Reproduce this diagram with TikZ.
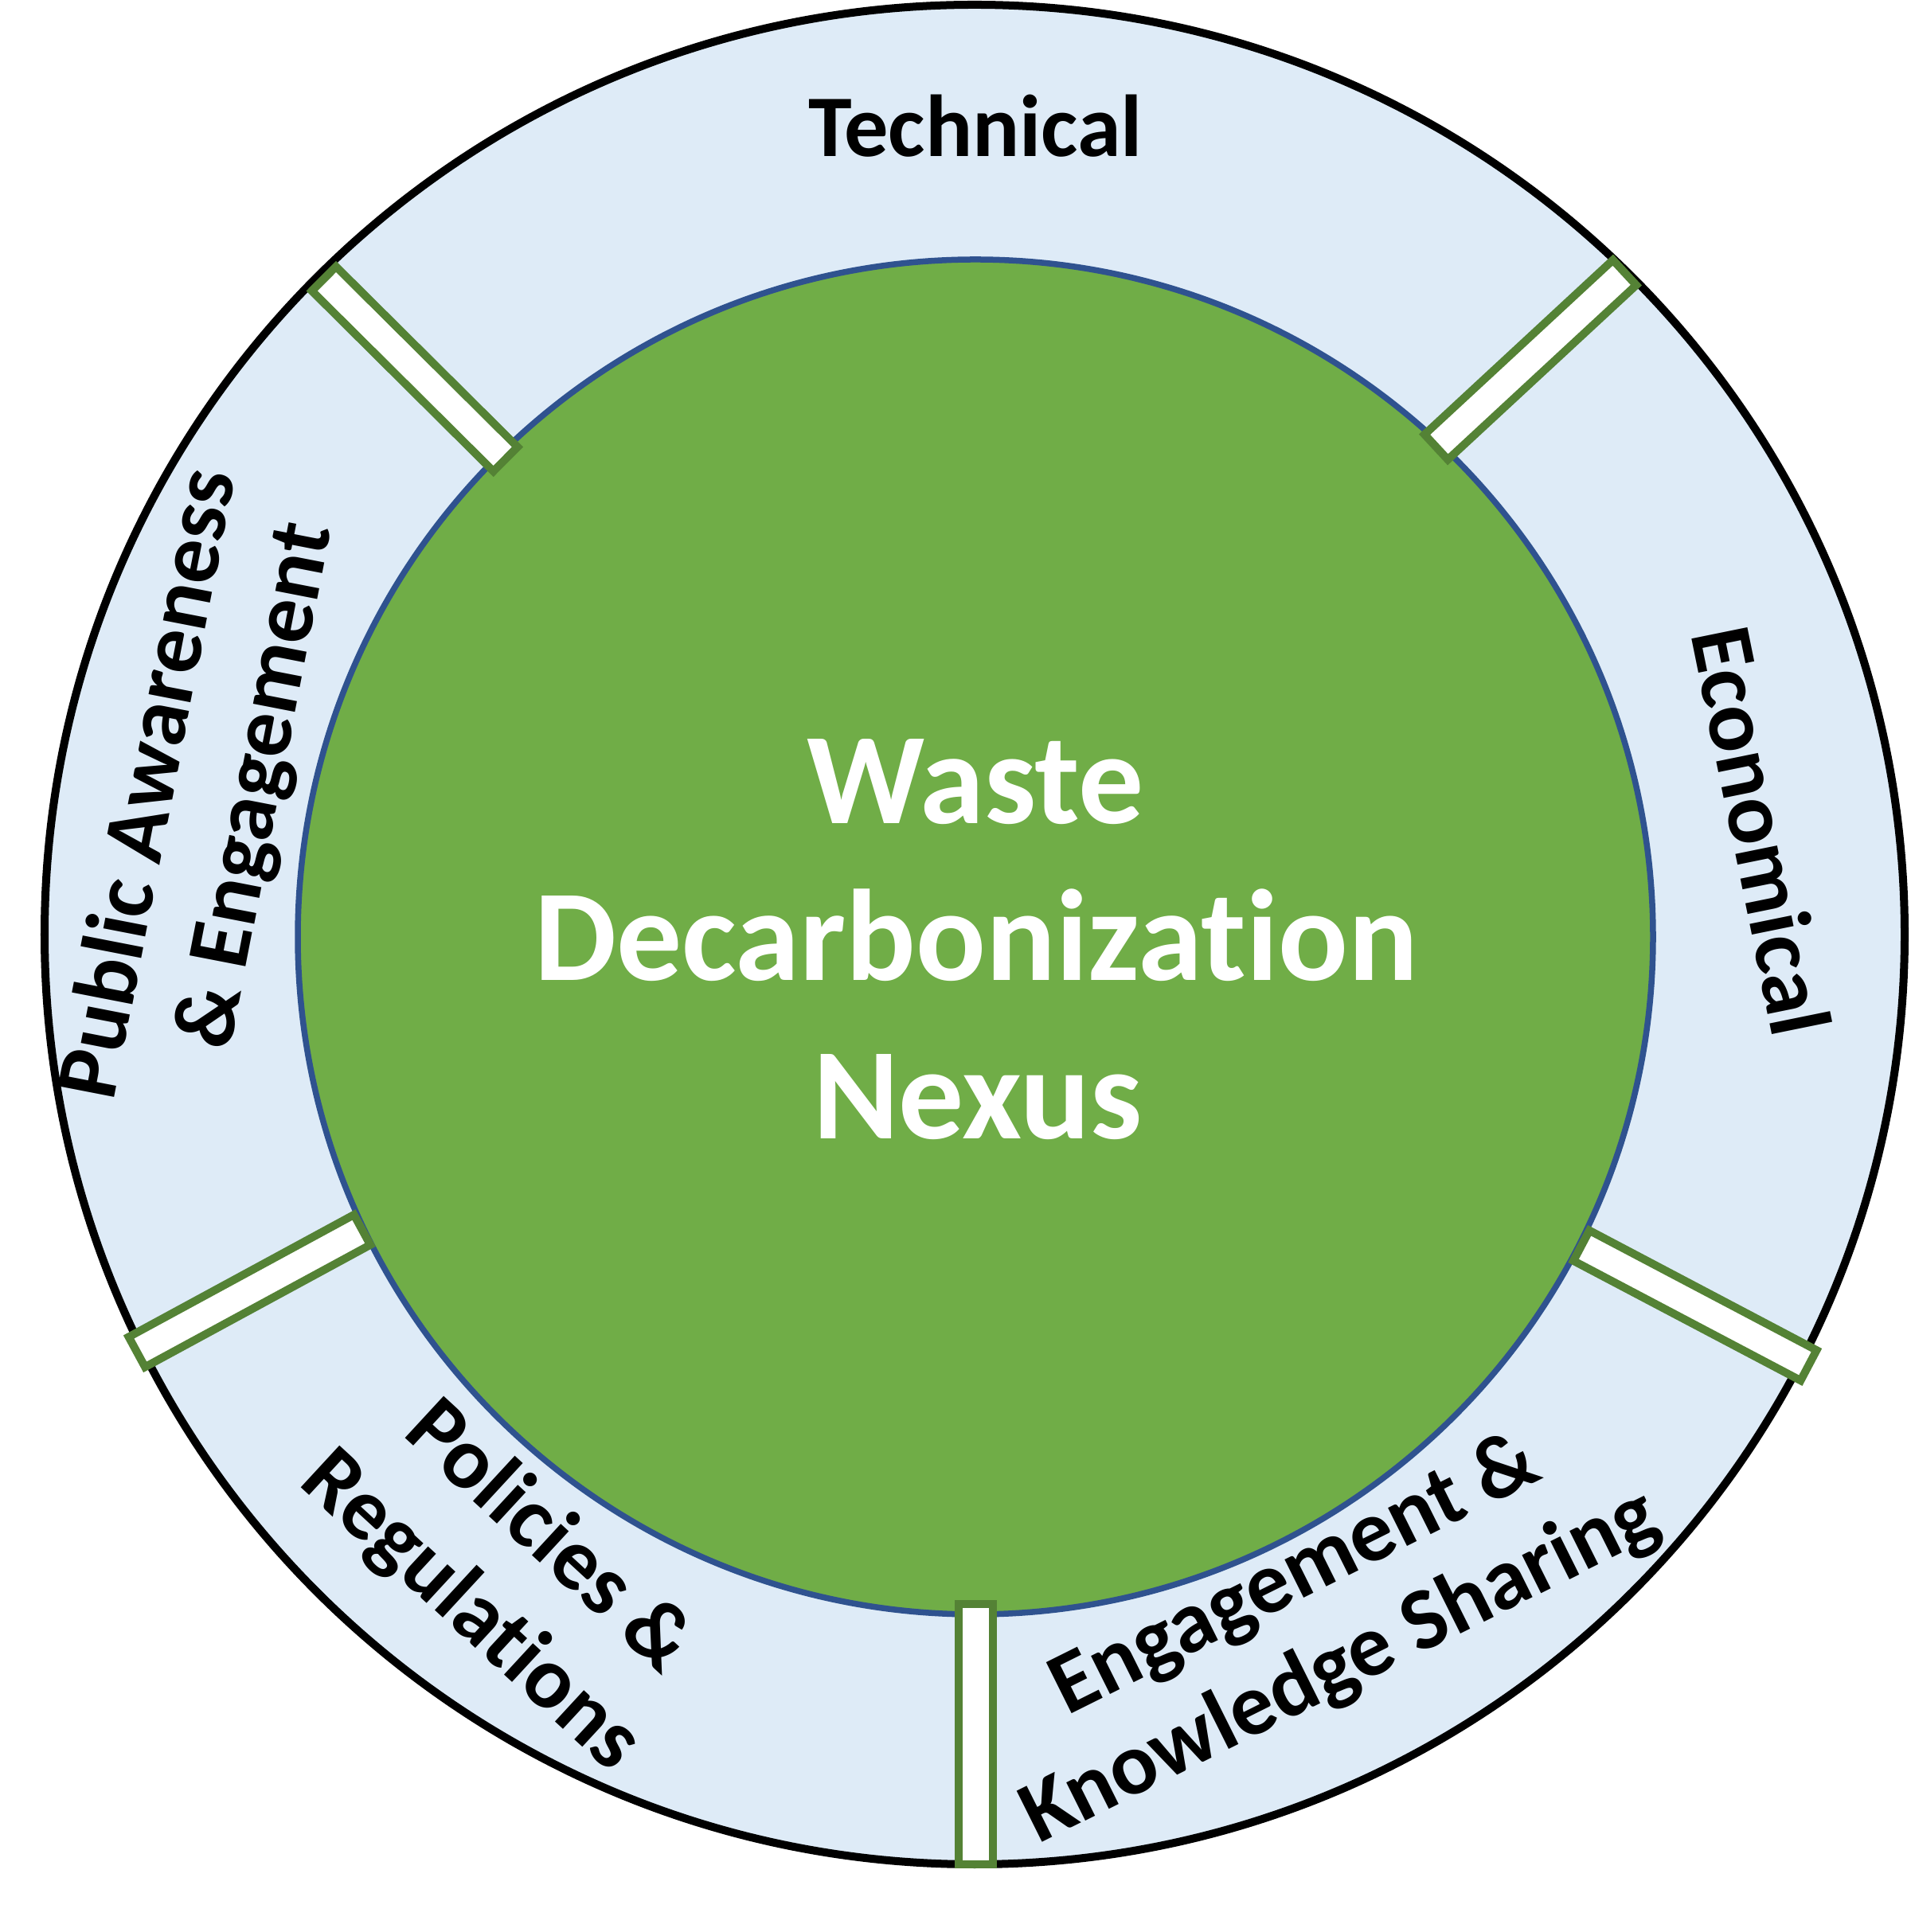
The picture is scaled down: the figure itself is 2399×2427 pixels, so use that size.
\documentclass[tikz,border=0pt]{standalone}
\usepackage{fontspec}
\setmainfont{Carlito}[Ligatures={NoCommon,NoContextual}]
\usetikzlibrary{calc}
\definecolor{ringfill}{HTML}{DEEBF7}
\definecolor{corefill}{HTML}{70AD47}
\definecolor{coreline}{HTML}{2F528F}
\definecolor{barline}{HTML}{548235}
\begin{document}
\begin{tikzpicture}[x=0.01cm,y=0.01cm,
  seglabel/.style={font=\fontsize{31.4pt}{38pt}\selectfont\bfseries, inner sep=0pt, anchor=base},
  coretext/.style={font=\fontsize{46.5pt}{56pt}\selectfont\bfseries, text=white, inner sep=0pt, anchor=base},
  spoke/.style={draw=barline, line width=0.1cm, fill=white, line join=miter}]
\useasboundingbox (0,0) rectangle (2399,2427);
\coordinate (oc) at (1224,1253);
\coordinate (ic) at (1225,1250);
\draw[fill=ringfill, line width=0.1cm] (oc) circle[radius=1168];
\draw[fill=corefill, draw=coreline, line width=0.075cm] (ic) circle[radius=851];
\foreach \n/\ax/\ay/\bx/\by in {tl/634.8/1850.2/406.8/2076.8,
                                tr/1803.7/1865.4/2040.3/2084.6,
                                bl/454.8/882.1/171.9/728.6,
                                br/1986.1/862.2/2271.4/711.8,
                                bt/1225.5/412/1225.5/85}{
  \coordinate (\n a) at (\ax,\ay);
  \coordinate (\n b) at (\bx,\by);
  \draw[spoke] ($(\n a)!0.215cm!90:(\n b)$) -- ($(\n b)!0.215cm!-90:(\n a)$)
     -- ($(\n b)!0.215cm!90:(\n a)$) -- ($(\n a)!0.215cm!-90:(\n b)$) -- cycle;
}
\node[seglabel] (tech) at (1225,2230) {Technical};
\node[seglabel, rotate=-78.5] (econ) at (2175,1376) {Economical};
\node[seglabel, rotate=79] (pub1) at (219,1436) {Public Awareness};
\node[seglabel, rotate=79] (pub2) at (352,1434) {\& Engagement};
\node[seglabel, rotate=-42.7] (pol1) at (668,473) {Policies \&};
\node[seglabel, rotate=-42.7] (pol2) at (571,381) {Regulations};
\node[seglabel, rotate=26.5] (eng1) at (1640,421) {Engagement \&};
\node[seglabel, rotate=26.5] (eng2) at (1697,306) {Knowledge Sharing};
\node[coretext] (w1) at (1225,1392) {Waste};
\node[coretext] (w2) at (1226,1195) {Decarbonization};
\node[coretext] (w3) at (1228,996) {Nexus};
\end{tikzpicture}
\end{document}
